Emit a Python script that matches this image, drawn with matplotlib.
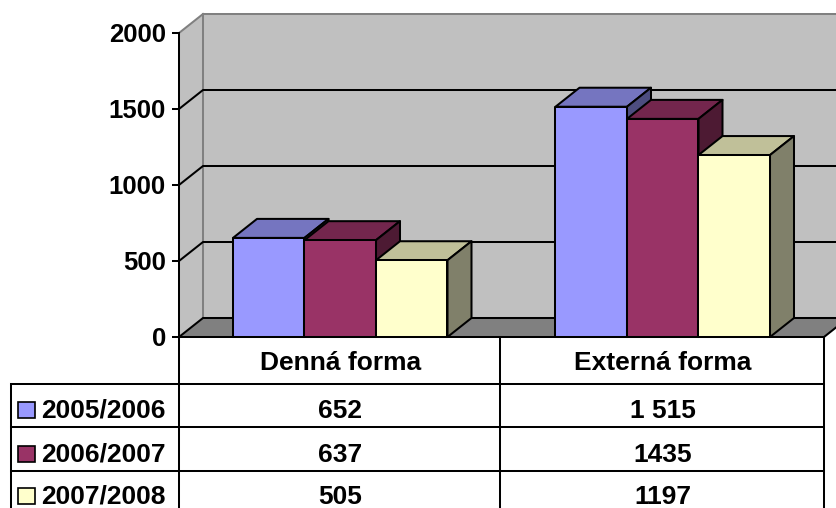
import matplotlib.pyplot as plt
from matplotlib.patches import Polygon, Rectangle
from matplotlib.lines import Line2D
from matplotlib.transforms import blended_transform_factory

# datos
categories = ['Denná forma', 'Externá forma']
series = ['2005/2006', '2006/2007', '2007/2008']
v_2005 = [652, 1515]
v_2006 = [637, 1435]
v_2007 = [505, 1197]
cell_text = [['652', '1 515'], ['637', '1435'], ['505', '1197']]
yticks = [0, 500, 1000, 1500, 2000]

# colores (frente, techo, lado)
colors = [('#9999FF', '#7575C0', '#4D4D80'),
          ('#993366', '#73264D', '#4D1A33'),
          ('#FFFFCC', '#C0C099', '#80806A')]

plt.rcParams['font.family'] = ['Liberation Sans', 'DejaVu Sans']
plt.rcParams['font.weight'] = 'bold'
FS = 19
FS_TICK = 18.5
LW = 1.45

W, H = 837, 508
fig = plt.figure(figsize=(W / 100, H / 100), dpi=100)


def fx(p):
    return p / W


def fy(p):
    return 1 - p / H


ax = fig.add_axes([fx(179), fy(337), fx(824) - fx(179), fy(33) - fy(337)])
ax.set_xlim(0, len(categories))
ax.set_ylim(0, 2000)
ax.patch.set_visible(False)
for s in ax.spines.values():
    s.set_visible(False)

# profundidad 3D en unidades de datos
dx = 24 * len(categories) / 645
dy = 19 * 2000 / 304
top = yticks[-1]
n = len(categories)

# paredes y piso
ax.add_patch(Polygon([(0, 0), (dx, dy), (dx, top + dy), (0, top)],
                     fc='#C0C0C0', ec='none', clip_on=False, zorder=0))
ax.add_patch(Polygon([(dx, dy), (n + dx, dy), (n + dx, top + dy), (dx, top + dy)],
                     fc='#C0C0C0', ec='none', clip_on=False, zorder=0))
ax.add_patch(Polygon([(0, 0), (n, 0), (n + dx, dy), (dx, dy)],
                     fc='#808080', ec='black', lw=LW, clip_on=False, zorder=1))
for xs, ys in [([0, dx], [top, top + dy]), ([dx, n + dx], [top + dy, top + dy]),
               ([dx, dx], [dy, top + dy]), ([dx, n + dx], [dy, dy])]:
    ax.plot(xs, ys, color='#808080', lw=LW, clip_on=False, zorder=0.5)

# lineas de grilla
for t in yticks[1:-1]:
    ax.plot([0, dx, n + dx], [t, t + dy, t + dy], color='black', lw=LW,
            clip_on=False, zorder=0.6)

# barras 3D
values = [v_2005, v_2006, v_2007]
bw = 71.5 / 322.5
for i in range(n):
    x0 = i + (1 - 3 * bw) / 2
    for j, vals in enumerate(values):
        v = vals[i]
        xa = x0 + j * bw
        xb = xa + bw
        front, roof, side = colors[j]
        z = 2 + i * 3 + j
        ax.add_patch(Polygon([(xa, v), (xb, v), (xb + dx, v + dy), (xa + dx, v + dy)],
                             fc=roof, ec='black', lw=LW, clip_on=False, zorder=z,
                             joinstyle='round'))
        ax.add_patch(Polygon([(xb, 0), (xb + dx, dy), (xb + dx, v + dy), (xb, v)],
                             fc=side, ec='black', lw=LW, clip_on=False, zorder=z,
                             joinstyle='round'))
        ax.add_patch(Rectangle((xa, 0), bw, v, fc=front, ec='black', lw=LW,
                               clip_on=False, zorder=z, joinstyle='round'))

# eje y
ax.plot([0, 0], [0, top], color='black', lw=LW, clip_on=False, zorder=20)
ax.set_xticks([])
ax.set_yticks(yticks)
ax.set_yticklabels([str(t) for t in yticks], fontsize=FS_TICK, fontweight='bold')
ax.tick_params(axis='y', length=5, width=LW, pad=4.5, left=True)

# tabla de datos
tr = blended_transform_factory(ax.transData, fig.transFigure)
rows_y = [337, 384, 427, 471, 530]


def hline(x0, x1, y):
    fig.add_artist(Line2D([fx(x0), fx(x1)], [fy(y), fy(y)], color='black', lw=LW))


def vline(x, y0, y1):
    fig.add_artist(Line2D([fx(x), fx(x)], [fy(y0), fy(y1)], color='black', lw=LW))


for y in rows_y[1:4]:
    hline(11, 824, y)
vline(11, 384, 530)
vline(179, 337, 530)
vline(500, 337, 530)
vline(824, 337, 530)

for i, c in enumerate(categories):
    ax.text(i + 0.5, fy(370), c, transform=tr, ha='center', va='baseline',
            fontsize=FS, fontweight='bold')

baselines = [418, 462, 504]
for j, name in enumerate(series):
    fig.add_artist(Rectangle((fx(18), fy(baselines[j])), fx(35) - fx(18),
                             fy(402) - fy(418), fc=colors[j][0], ec='black',
                             lw=1.2, transform=fig.transFigure))
    fig.text(fx(41), fy(baselines[j]), name, ha='left', va='baseline',
             fontsize=FS, fontweight='bold')
    for i in range(n):
        ax.text(i + 0.5, fy(baselines[j]), cell_text[j][i], transform=tr,
                ha='center', va='baseline', fontsize=FS, fontweight='bold')

fig.savefig('out.png', dpi=100)
